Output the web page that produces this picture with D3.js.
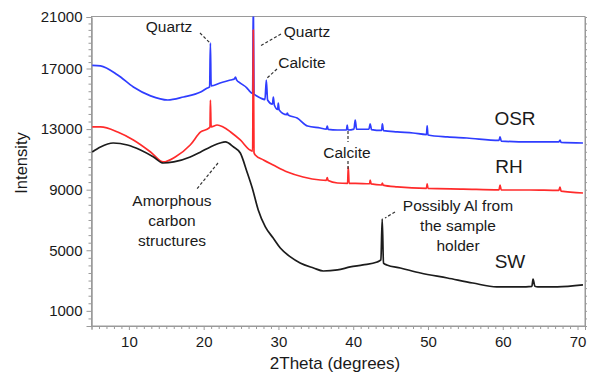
<!DOCTYPE html>
<html><head><meta charset="utf-8">
<script src="https://cdn.jsdelivr.net/npm/d3@7"></script>
<style>
html,body{margin:0;padding:0;background:#fff;}
text{font-family:"Liberation Sans",Arial,sans-serif;fill:#1a1a1a;}
</style></head>
<body><svg id="c" width="595" height="375"></svg>
<script>
// ---- data (2Theta in degrees, intensity in counts) ----
const osrTheta = [5.1,6.2,8.5,10.6,12.9,15.2,17.3,19.6,20.5,20.8,20.9,21.0,22.2,23.6,24.1,24.25,24.4,24.9,25.8,26.24,26.55,26.64,26.73,26.9,27.6,28.2,28.38,28.55,29.2,29.32,29.45,29.9,29.98,30.1,31.1,31.2,31.3,32.5,33.9,35.6,36.4,36.53,36.65,37.9,39.1,39.2,39.3,40.1,40.27,40.45,42.1,42.27,42.45,43.8,43.9,44.05,45.9,48.0,49.8,49.89,50.0,52.6,55.2,59.5,59.64,59.8,63.6,67.5,67.66,67.8,70.73];
const osrValue = [17250,17200,16570,15780,15190,14920,15120,15450,15710,15780,18980,15850,16040,16240,16300,16440,16250,16040,15710,15450,15350,22500,15300,15250,15050,14950,16240,14920,14650,15120,14590,14300,14720,14260,13950,14060,13930,13730,13200,13070,13000,13200,12980,12940,12940,13270,12940,13000,13600,13000,12990,13340,12970,12910,13340,12900,12810,12740,12640,13210,12610,12480,12410,12250,12480,12210,12150,12150,12280,12120,12080];

const rhTheta = [5.1,6.2,8.5,10.6,12.9,14.6,16.2,18.2,19.6,20.7,20.85,20.9,21.0,21.8,22.6,23.6,24.9,26.2,26.55,26.64,26.73,26.9,28.0,29.3,31.2,33.3,35.6,36.4,36.53,36.65,37.9,39.25,39.34,39.45,40.3,42.2,42.27,42.4,43.8,43.9,44.0,45.9,49.8,49.89,50.0,54.7,59.5,59.64,59.8,63.6,67.5,67.66,67.8,70.73];
const rhValue = [13140,13140,12810,12280,11490,10830,11160,11950,12810,13070,13150,14920,13150,13270,13140,12810,12280,11620,11550,20000,11450,11290,10960,10630,10170,9840,9640,9620,9800,9600,9440,9420,10500,9420,9420,9390,9640,9380,9310,9440,9300,9180,9090,9380,9080,9040,8990,9300,8980,8980,8950,9170,8900,8780];

const swTheta = [5.1,6.2,7.9,9.8,11.55,13.3,14.6,16.0,18.2,19.6,20.9,22.2,22.9,24.0,24.9,25.8,26.5,27.3,28.25,29.3,30.25,31.6,32.9,34.7,36.0,37.9,39.6,41.3,43.2,43.7,43.88,44.05,44.5,46.3,49.0,52.6,56.0,59.2,62.3,63.9,64.05,64.3,64.7,67.3,70.73];
const swValue = [11490,11820,12080,11950,11620,11160,10760,10830,11160,11490,11820,12080,12150,11820,11420,10170,9110,7660,6540,5810,5150,4560,4160,3830,3630,3700,3900,4030,4230,4360,7060,4150,4030,3830,3500,3170,2840,2580,2580,2620,3100,2620,2580,2580,2710];

const seriesNames = ["OSR","RH","SW"];
const seriesColors = ["#2f3dff","#ff2b2b","#1c1c1c"];
const xTicks = [10,20,30,40,50,60,70];
const yTicks = [1000,5000,9000,13000,17000,21000];

// ---- layout ----
const svg = d3.select("#c");
const L = 91.5, R = 585, T = 16.5, B = 326;
const x = d3.scaleLinear().domain([5, 71]).range([L, R]);
// the original axis is compressed in its top segment (17000–21000)
const y = d3.scaleLinear().domain([0, 17000, 21000]).range([B, 68.5, 17]);

svg.append("defs").append("clipPath").attr("id","plot")
  .append("rect").attr("x",L).attr("y",T).attr("width",R-L).attr("height",B-T);

const gray = "#9a9a9a";
svg.append("rect").attr("x",L).attr("y",T).attr("width",R-L).attr("height",B-T)
  .attr("fill","none").attr("stroke",gray).attr("stroke-width",1);

const yMinor = d3.range(500, 21000, 500).filter(v => !yTicks.includes(v));
const xMinor = d3.range(6, 72, 1).filter(v => !xTicks.includes(v));

function styleAxis(g){
  g.select(".domain").attr("stroke",gray);
  g.selectAll(".tick line").attr("stroke",gray);
}
const gy = svg.append("g").attr("transform",`translate(${L},0)`)
  .call(d3.axisLeft(y).tickValues(yTicks).tickSize(5).tickPadding(4).tickFormat(d3.format("d")));
styleAxis(gy);
gy.selectAll(".tick text").attr("font-size",15).attr("fill","#1a1a1a").attr("font-family","Liberation Sans, Arial, sans-serif");
const gym = svg.append("g").attr("transform",`translate(${L},0)`)
  .call(d3.axisLeft(y).tickValues(yMinor).tickSize(3).tickFormat(""));
styleAxis(gym);
const gyr = svg.append("g").attr("transform",`translate(${R},0)`)
  .call(d3.axisRight(y).tickValues(yMinor.concat(yTicks)).tickSize(2).tickFormat(""));
styleAxis(gyr);

const gx = svg.append("g").attr("transform",`translate(0,${B})`)
  .call(d3.axisBottom(x).tickValues(xTicks).tickSize(4).tickPadding(6).tickFormat(d3.format("d")));
styleAxis(gx);
gx.selectAll(".tick text").attr("font-size",15).attr("fill","#1a1a1a").attr("font-family","Liberation Sans, Arial, sans-serif");
const gxm = svg.append("g").attr("transform",`translate(0,${B})`)
  .call(d3.axisBottom(x).tickValues(xMinor).tickSize(3).tickFormat(""));
styleAxis(gxm);

svg.append("text").attr("transform","translate(27,163) rotate(-90)")
  .attr("text-anchor","middle").attr("font-size",16.5).text("Intensity");
svg.append("text").attr("x",335).attr("y",369)
  .attr("text-anchor","middle").attr("font-size",17).text("2Theta (degrees)");

const series = [
  {name:seriesNames[0], t:osrTheta, v:osrValue, color:seriesColors[0]},
  {name:seriesNames[1], t:rhTheta,  v:rhValue,  color:seriesColors[1]},
  {name:seriesNames[2], t:swTheta,  v:swValue,  color:seriesColors[2]}
];
const line = d3.line().curve(d3.curveMonotoneX).x(d => x(d[0])).y(d => y(d[1]));
const gl = svg.append("g").attr("clip-path","url(#plot)");
series.forEach(s => {
  gl.append("path")
    .datum(s.t.map((t,i)=>[t, s.v[i]]))
    .attr("fill","none").attr("stroke",s.color)
    .attr("stroke-width",1.7).attr("stroke-linejoin","round")
    .attr("d", line);
});

const labelPos = [[515,125],[509,173],[510,268]];
seriesNames.forEach((n,i)=>{
  svg.append("text").attr("x",labelPos[i][0]).attr("y",labelPos[i][1])
    .attr("text-anchor","middle").attr("font-size",19).text(n);
});

const notes = [
  {lines:["Quartz"], x:169, y:32},
  {lines:["Quartz"], x:307, y:37},
  {lines:["Calcite"], x:302, y:68},
  {lines:["Calcite"], x:347, y:158},
  {lines:["Amorphous","carbon","structures"], x:172, y:206},
  {lines:["Possibly Al from","the sample","holder"], x:458, y:211}
];
notes.forEach(n=>{
  const t = svg.append("text").attr("x",n.x).attr("y",n.y)
    .attr("text-anchor","middle").attr("font-size",15.5);
  n.lines.forEach((s,i)=> t.append("tspan").attr("x",n.x).attr("dy", i===0?0:20).text(s));
});
const leaders = [
  [[200,33],[210,43]],
  [[281,34],[260,46]],
  [[277,69],[266,79]],
  [[348,131],[348,142]],
  [[348,161],[348,169]],
  [[218,163],[196,190]],
  [[395,212],[385,218]]
];
leaders.forEach(l=>{
  svg.append("line").attr("x1",l[0][0]).attr("y1",l[0][1]).attr("x2",l[1][0]).attr("y2",l[1][1])
    .attr("stroke","#333").attr("stroke-width",1.2).attr("stroke-dasharray","3,2");
});
</script></body></html>
